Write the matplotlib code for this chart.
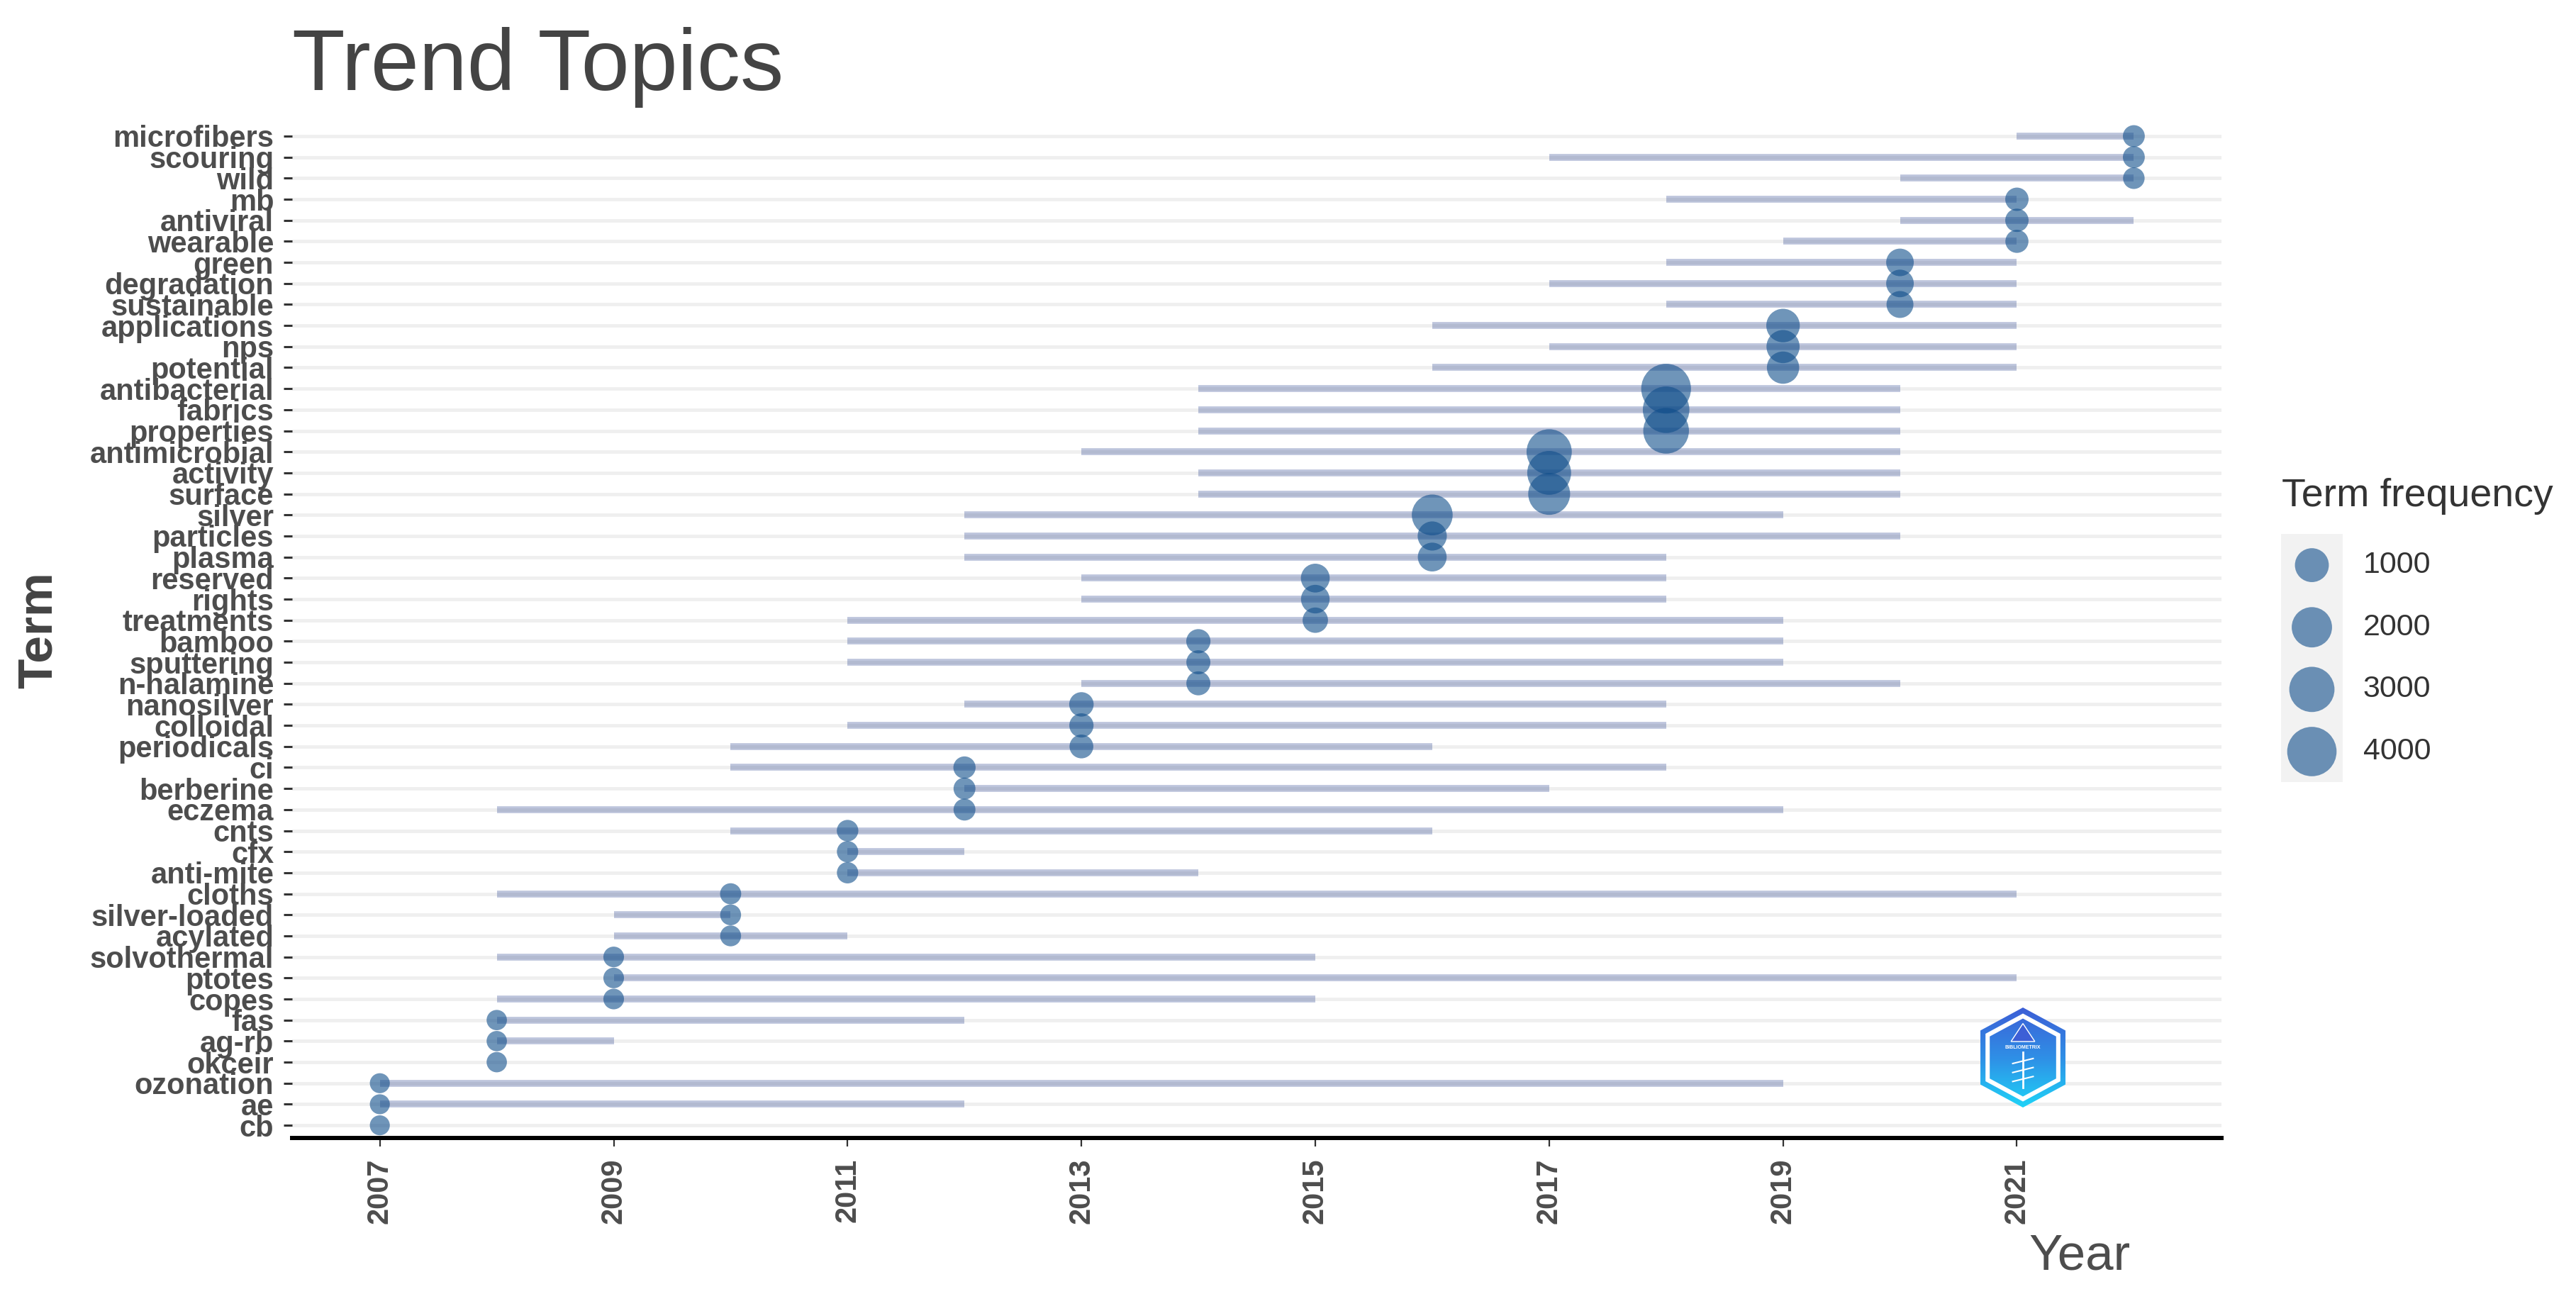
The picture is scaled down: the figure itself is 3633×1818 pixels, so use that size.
import numpy as np
import matplotlib
matplotlib.use("Agg")
import matplotlib.pyplot as plt
from matplotlib.patches import Polygon
from matplotlib.colors import LinearSegmentedColormap
import matplotlib.transforms as mtransforms

plt.rcParams['font.family'] = ['Liberation Sans', 'DejaVu Sans']

# terms from top to bottom
terms = ["microfibers", "scouring", "wild", "mb", "antiviral", "wearable",
         "green", "degradation", "sustainable", "applications", "nps", "potential",
         "antibacterial", "fabrics", "properties", "antimicrobial", "activity", "surface",
         "silver", "particles", "plasma", "reserved", "rights", "treatments",
         "bamboo", "sputtering", "n-halamine", "nanosilver", "colloidal", "periodicals",
         "ci", "berberine", "eczema", "cnts", "cfx", "anti-mite",
         "cloths", "silver-loaded", "acylated", "solvothermal", "ptotes", "copes",
         "fas", "ag-rb", "okceir", "ozonation", "ae", "cb"]
year_q1 = [2021, 2017, 2020, 2018, 2020, 2019, 2018, 2017, 2018, 2016, 2017, 2016,
           2014, 2014, 2014, 2013, 2014, 2014, 2012, 2012, 2012, 2013, 2013, 2011,
           2011, 2011, 2013, 2012, 2011, 2010, 2010, 2012, 2008, 2010, 2011, 2011,
           2008, 2009, 2009, 2008, 2009, 2008, 2008, 2008, 2008, 2007, 2007, 2007]
year_med = [2022, 2022, 2022, 2021, 2021, 2021, 2020, 2020, 2020, 2019, 2019, 2019,
            2018, 2018, 2018, 2017, 2017, 2017, 2016, 2016, 2016, 2015, 2015, 2015,
            2014, 2014, 2014, 2013, 2013, 2013, 2012, 2012, 2012, 2011, 2011, 2011,
            2010, 2010, 2010, 2009, 2009, 2009, 2008, 2008, 2008, 2007, 2007, 2007]
year_q3 = [2022, 2022, 2022, 2021, 2022, 2021, 2021, 2021, 2021, 2021, 2021, 2021,
           2020, 2020, 2020, 2020, 2020, 2020, 2019, 2020, 2018, 2018, 2018, 2019,
           2019, 2019, 2020, 2018, 2018, 2016, 2018, 2017, 2019, 2016, 2012, 2014,
           2021, 2010, 2011, 2015, 2021, 2015, 2012, 2009, 2008, 2019, 2012, 2007]
freq = [50, 50, 40, 100, 100, 90, 350, 350, 300, 950, 900, 800,
        4100, 3300, 3100, 3000, 2700, 2300, 2100, 480, 450, 450, 430, 200,
        140, 130, 130, 150, 140, 120, 60, 50, 50, 40, 35, 35,
        30, 25, 25, 20, 20, 20, 15, 15, 15, 10, 10, 10]

legend_vals = [1000, 2000, 3000, 4000]
x_ticks = [2007, 2009, 2011, 2013, 2015, 2017, 2019, 2021]


def bubble_area(f):
    # diameter grows with sqrt(freq), like ggplot's scale_size
    d_px = 26 + 0.69 * np.sqrt(np.asarray(f, dtype=float))
    return (d_px * 0.72) ** 2


point_col = '#104E8B'   # dodgerblue4
seg_col = '#27408B'     # royalblue4
text_col = '#4D4D4D'

fig = plt.figure(figsize=(36.33, 18.18), dpi=100)
ax = fig.add_axes([0.1134, 0.1172, 0.749, 0.787])

n = len(terms)
ypos = np.arange(n)[::-1]

ax.hlines(ypos, year_q1, year_q3, colors=seg_col, alpha=0.3, linewidth=7,
          capstyle='butt', zorder=2)
ax.scatter(year_med, ypos, s=bubble_area(freq), color=point_col, alpha=0.6,
           edgecolors='none', zorder=3)

ax.set_xlim(2006.25, 2022.75)
ax.set_ylim(-0.6, n - 1 + 0.6)
ax.set_yticks(ypos)
ax.set_yticklabels(terms, fontsize=30, fontweight='bold', color=text_col)
ax.set_xticks(x_ticks)
ax.set_xticklabels([str(t) for t in x_ticks], rotation=90, fontsize=30,
                   fontweight='bold', color=text_col)

ax.yaxis.grid(True, color='#EFEFEF', linewidth=3.5)
ax.xaxis.grid(False)
ax.set_axisbelow(True)
for side in ['top', 'right', 'left']:
    ax.spines[side].set_visible(False)
ax.spines['bottom'].set_color('black')
ax.spines['bottom'].set_linewidth(4.3)
ax.tick_params(axis='y', length=8.6, width=2.2, color='#333333', pad=10)
ax.tick_params(axis='x', length=8.6, width=1.6, color='#333333', pad=12)

fig.text(0.1134, 0.930, 'Trend Topics', fontsize=88, color='#444444',
         ha='left', va='baseline')
fig.text(0.015, 0.511, 'Term', fontsize=50, fontweight='bold', color='#444444',
         rotation=90, ha='center', va='center')
fig.text(0.827, 0.025, 'Year', fontsize=51, color=text_col, ha='right', va='center')

# legend for term frequency
fig.text(0.8858, 0.615, 'Term frequency', fontsize=40, color='#333333',
         ha='left', va='center')
lax = fig.add_axes([3217 / 3633, 1 - 1103 / 1818, 87 / 3633, 350 / 1818])
lax.set_facecolor('#F2F2F2')
lax.scatter([0.5] * len(legend_vals), legend_vals, s=bubble_area(legend_vals),
            color=point_col, alpha=0.6, edgecolors='none')
lax.set_xlim(0, 1)
lax.set_ylim(4491, 497)
lax.set_xticks([])
lax.set_yticks([])
for sp in lax.spines.values():
    sp.set_visible(False)
trans = mtransforms.blended_transform_factory(lax.transAxes, lax.transData)
for v in legend_vals:
    lax.text(1.33, v, str(v), transform=trans, fontsize=31, color='#333333',
             ha='left', va='center')

# bibliometrix logo
gax = fig.add_axes([2793 / 3633, 1 - 1562 / 1818, 120 / 3633, 141 / 1818])
gax.set_xlim(0, 1)
gax.set_ylim(0, 1)
gax.axis('off')
hexv = np.array([[0.5, 1.0], [1.0, 0.77], [1.0, 0.23], [0.5, 0.0], [0.0, 0.23], [0.0, 0.77]])
grad = np.linspace(0, 1, 256).reshape(-1, 1)
cmap = LinearSegmentedColormap.from_list('logo', ['#1FD3F7', '#2F8FE6', '#3D5FD6'])


def hex_patch(scale, **kw):
    return Polygon(0.5 + (hexv - 0.5) * scale, closed=True, **kw)


outer = hex_patch(1.0, facecolor='none', edgecolor='none')
gax.add_patch(outer)
im1 = gax.imshow(grad, cmap=cmap, extent=[0, 1, 0, 1], origin='lower',
                 aspect='auto', zorder=1)
im1.set_clip_path(outer)
gax.add_patch(hex_patch(0.88, facecolor='white', edgecolor='none', zorder=2))
inner = hex_patch(0.78, facecolor='none', edgecolor='none')
gax.add_patch(inner)
im2 = gax.imshow(grad, cmap=cmap, extent=[0, 1, 0, 1], origin='lower',
                 aspect='auto', zorder=3)
im2.set_clip_path(inner)
gax.add_patch(Polygon([[0.5, 0.84], [0.64, 0.66], [0.36, 0.66]], closed=True,
                      facecolor='#3D5FD6', edgecolor='white', linewidth=1, zorder=4))
gax.text(0.5, 0.6, 'BIBLIOMETRIX', fontsize=5, fontweight='bold', color='white',
         ha='center', va='center', zorder=5)
gax.plot([0.5, 0.5], [0.2, 0.55], color='white', linewidth=2, zorder=5)
for yy in [0.26, 0.35, 0.44]:
    gax.plot([0.38, 0.62], [yy, yy + 0.05], color='white', linewidth=1.5, zorder=5)

fig.savefig('out.png', dpi=100, facecolor='white')
